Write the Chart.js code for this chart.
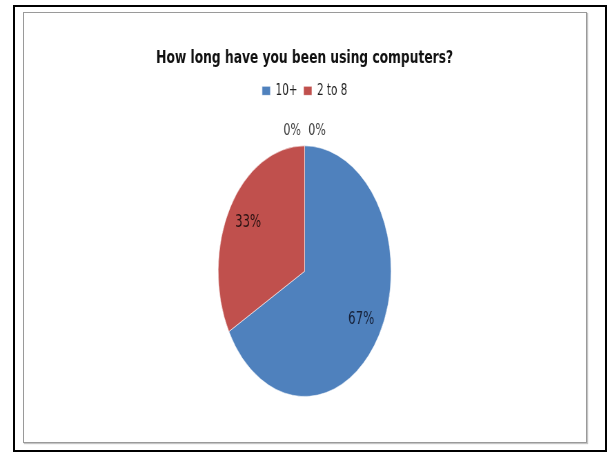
<!DOCTYPE html>
<html>
<head>
<meta charset="utf-8">
<script src="https://cdn.jsdelivr.net/npm/chart.js@4/dist/chart.umd.min.js"></script>
<style>
  html, body { margin: 0; padding: 0; background: #ffffff; width: 609px; height: 453px; overflow: hidden; }
  #outer { position: absolute; left: 13px; top: 5px; width: 594px; height: 447px; box-sizing: border-box; border: 2px solid #000; }
  #inner { position: absolute; left: 23px; top: 12px; width: 564px; height: 431px; box-sizing: border-box; border: 1px solid #9a9a9a; box-shadow: 1px 1px 1px #c4c4c4; }
  #wrap { position: absolute; left: 0; top: 0; width: 883px; height: 453px; transform: scaleX(0.69); transform-origin: 0 0; }
</style>
</head>
<body>
<div id="outer"></div>
<div id="inner"></div>
<div id="wrap"><canvas id="c" width="883" height="453"></canvas></div>
<script>
const titleText = 'How long have you been using computers?';
const categories = ['10+', '2 to 8', '', ''];
const percentValues = [67, 33, 0, 0];
const sliceColors = ['#4f81bd', '#c0504d', '#9bbb59', '#8064a2'];
const labelColors = ['#17223a', '#2a1212', '#404040', '#404040'];

const legendGap = {
  id: 'legendGap',
  beforeInit(chart) {
    const orig = chart.legend.fit;
    chart.legend.fit = function () { orig.call(this); this.height += 37; };
  }
};

const sliceLabels = {
  id: 'sliceLabels',
  afterDatasetsDraw(chart) {
    const ctx = chart.ctx;
    const meta = chart.getDatasetMeta(0);
    const data = chart.data.datasets[0].data;
    const total = data.reduce((a, b) => a + b, 0);
    const zeroCount = data.filter(v => v === 0).length;
    let zi = 0;
    meta.data.forEach((arc, i) => {
      const v = data[i];
      const p = arc.getProps(['x', 'y', 'startAngle', 'endAngle', 'outerRadius'], true);
      const mid = (p.startAngle + p.endAngle) / 2;
      let lx, ly;
      if (v > 0) {
        const r = p.outerRadius * 0.76;
        lx = p.x + Math.cos(mid) * r;
        ly = p.y + Math.sin(mid) * r;
      } else {
        const r = p.outerRadius + 15;
        lx = p.x + Math.cos(mid) * r + (zi - (zeroCount - 1) / 2) * 36;
        ly = p.y + Math.sin(mid) * r;
        zi++;
      }
      ctx.save();
      ctx.font = (v > 0 ? '17px' : '16px') + ' "DejaVu Sans"';
      ctx.fillStyle = labelColors[i];
      ctx.textAlign = 'center';
      ctx.textBaseline = 'middle';
      ctx.fillText(Math.round(v / total * 100) + '%', lx, ly);
      ctx.restore();
    });
  }
};

new Chart(document.getElementById('c'), {
  type: 'pie',
  data: {
    labels: categories,
    datasets: [{
      data: percentValues,
      backgroundColor: sliceColors,
      borderColor: 'rgba(255,255,255,0.55)',
      borderWidth: 1
    }]
  },
  options: {
    responsive: false,
    animation: false,
    devicePixelRatio: 1,
    layout: { padding: { top: 48, bottom: 56, left: 0, right: 0 } },
    plugins: {
      title: {
        display: true,
        text: titleText,
        color: '#111111',
        font: { family: '"DejaVu Sans"', size: 17.8, weight: 'bold' },
        padding: { top: 0, bottom: 5 }
      },
      legend: {
        display: true,
        position: 'top',
        labels: {
          color: '#222222',
          font: { family: '"DejaVu Sans"', size: 15 },
          boxWidth: 12,
          boxHeight: 9,
          padding: 9,
          filter: (item) => item.text !== ''
        }
      },
      tooltip: { enabled: false }
    }
  },
  plugins: [legendGap, sliceLabels]
});
</script>
</body>
</html>
